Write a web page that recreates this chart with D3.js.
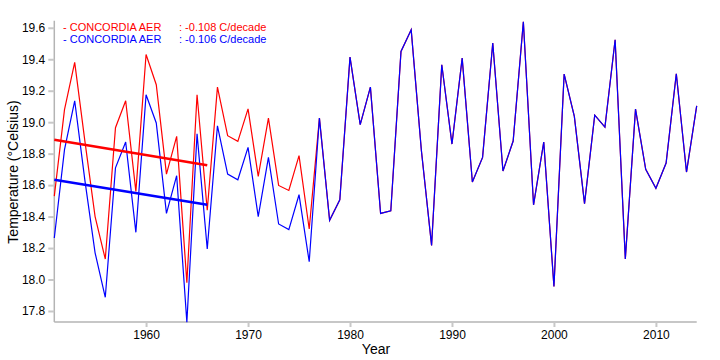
<!DOCTYPE html>
<html><head><meta charset="utf-8">
<script src="https://cdn.jsdelivr.net/npm/d3@7"></script>
<style>body{margin:0;background:#fff}svg{display:block;font-family:Arial,"Liberation Sans",sans-serif}</style>
</head><body><svg id="c" width="720" height="360"></svg>
<script>
const yearsEarly = d3.range(1951, 1977);
const yearsAll = d3.range(1951, 2015);
const redEarly = [18.53,19.08,19.38,18.88,18.40,18.13,18.965,19.136,18.56,19.43,19.238,18.67,18.91,17.98,19.174,18.44,19.223,18.914,18.878,19.085,18.655,19.026,18.598,18.566,18.787,18.321];
const blueEarly = [18.264,18.825,19.136,18.63,18.17,17.887,18.71,18.874,18.30,19.174,18.995,18.42,18.66,17.728,18.926,18.194,18.977,18.67,18.634,18.84,18.40,18.776,18.353,18.317,18.539,18.113];
const common = [19.026,18.376,18.507,19.414,18.984,19.223,18.42,18.437,19.45,19.587,18.82,18.217,19.365,18.861,19.407,18.62,18.776,19.503,18.69,18.88,19.638,18.475,18.874,17.956,19.306,19.037,18.482,19.045,18.969,19.524,18.13,19.083,18.70,18.58,18.74,19.308,18.683,19.104];
const trendYears = [1951, 1966];
const redTrend = [18.888, 18.726];
const blueTrend = [18.634, 18.475];
const legendNames = ["- CONCORDIA AER", "- CONCORDIA AER"];
const legendRates = [": -0.108 C/decade", ": -0.106 C/decade"];
const xTicks = [1960, 1970, 1980, 1990, 2000, 2010];
const yTicks = [17.8, 18.0, 18.2, 18.4, 18.6, 18.8, 19.0, 19.2, 19.4, 19.6];

const redSeries = redEarly.concat(common);
const blueSeries = blueEarly.concat(common);

const svg = d3.select("#c");
const x = d3.scaleLinear().domain([1951, 2014]).range([54.3, 696.7]);
const y = d3.scaleLinear().domain([17.73, 19.645]).range([322, 20.7]);

// axes
const xAxis = svg.append("g").attr("transform", "translate(0,322)")
  .call(d3.axisBottom(x).tickValues(xTicks).tickFormat(d3.format("d")).tickSize(5).tickPadding(3));
const yAxis = svg.append("g").attr("transform", "translate(54.3,0)")
  .call(d3.axisLeft(y).tickValues(yTicks).tickFormat(d3.format(".1f")).tickSize(6).tickPadding(3));
[xAxis, yAxis].forEach(g => {
  g.select(".domain").attr("stroke", "#b4b4b4").attr("stroke-width", 1.5);
  g.selectAll(".tick line").attr("stroke", "#c8c8c8").attr("stroke-width", 2);
  g.selectAll(".tick text").attr("fill", "#000").style("font-size", "12px").style("font-family", "Arial, 'Liberation Sans', sans-serif");
});
yAxis.select(".domain").attr("d", `M0,${y.range()[1]}V${y.range()[0]}`);
xAxis.select(".domain").attr("d", `M${x.range()[0]},0H${x.range()[1]}`);

const line = d3.line().x(d => x(d[0])).y(d => y(d[1]));
svg.append("path").datum(yearsAll.map((yr, i) => [yr, redSeries[i]]))
  .attr("d", line).attr("fill", "none").attr("stroke", "#ff0000").attr("stroke-width", 1.2);
svg.append("path").datum(yearsAll.map((yr, i) => [yr, blueSeries[i]]))
  .attr("d", line).attr("fill", "none").attr("stroke", "#0000ff").attr("stroke-width", 1.2);

svg.append("path").datum(trendYears.map((yr, i) => [yr, redTrend[i]]))
  .attr("d", line).attr("fill", "none").attr("stroke", "#ff0000").attr("stroke-width", 2.6);
svg.append("path").datum(trendYears.map((yr, i) => [yr, blueTrend[i]]))
  .attr("d", line).attr("fill", "none").attr("stroke", "#0000ff").attr("stroke-width", 2.6);

// legend
const colors = ["#ff0000", "#0000ff"];
legendNames.forEach((n, i) => {
  svg.append("text").attr("x", 63).attr("y", 30.5 + i * 12.5).attr("fill", colors[i])
    .style("font-size", "11px").text(n);
  svg.append("text").attr("x", 179).attr("y", 30.5 + i * 12.5).attr("fill", colors[i])
    .style("font-size", "11px").text(legendRates[i]);
});

// axis titles
svg.append("text").attr("x", 376).attr("y", 354).attr("text-anchor", "middle")
  .style("font-size", "14px").text("Year");
svg.append("text").attr("transform", "translate(18,172) rotate(-90)").attr("text-anchor", "middle")
  .style("font-size", "14px").text("Temperature (°Celsius)");
</script></body></html>
